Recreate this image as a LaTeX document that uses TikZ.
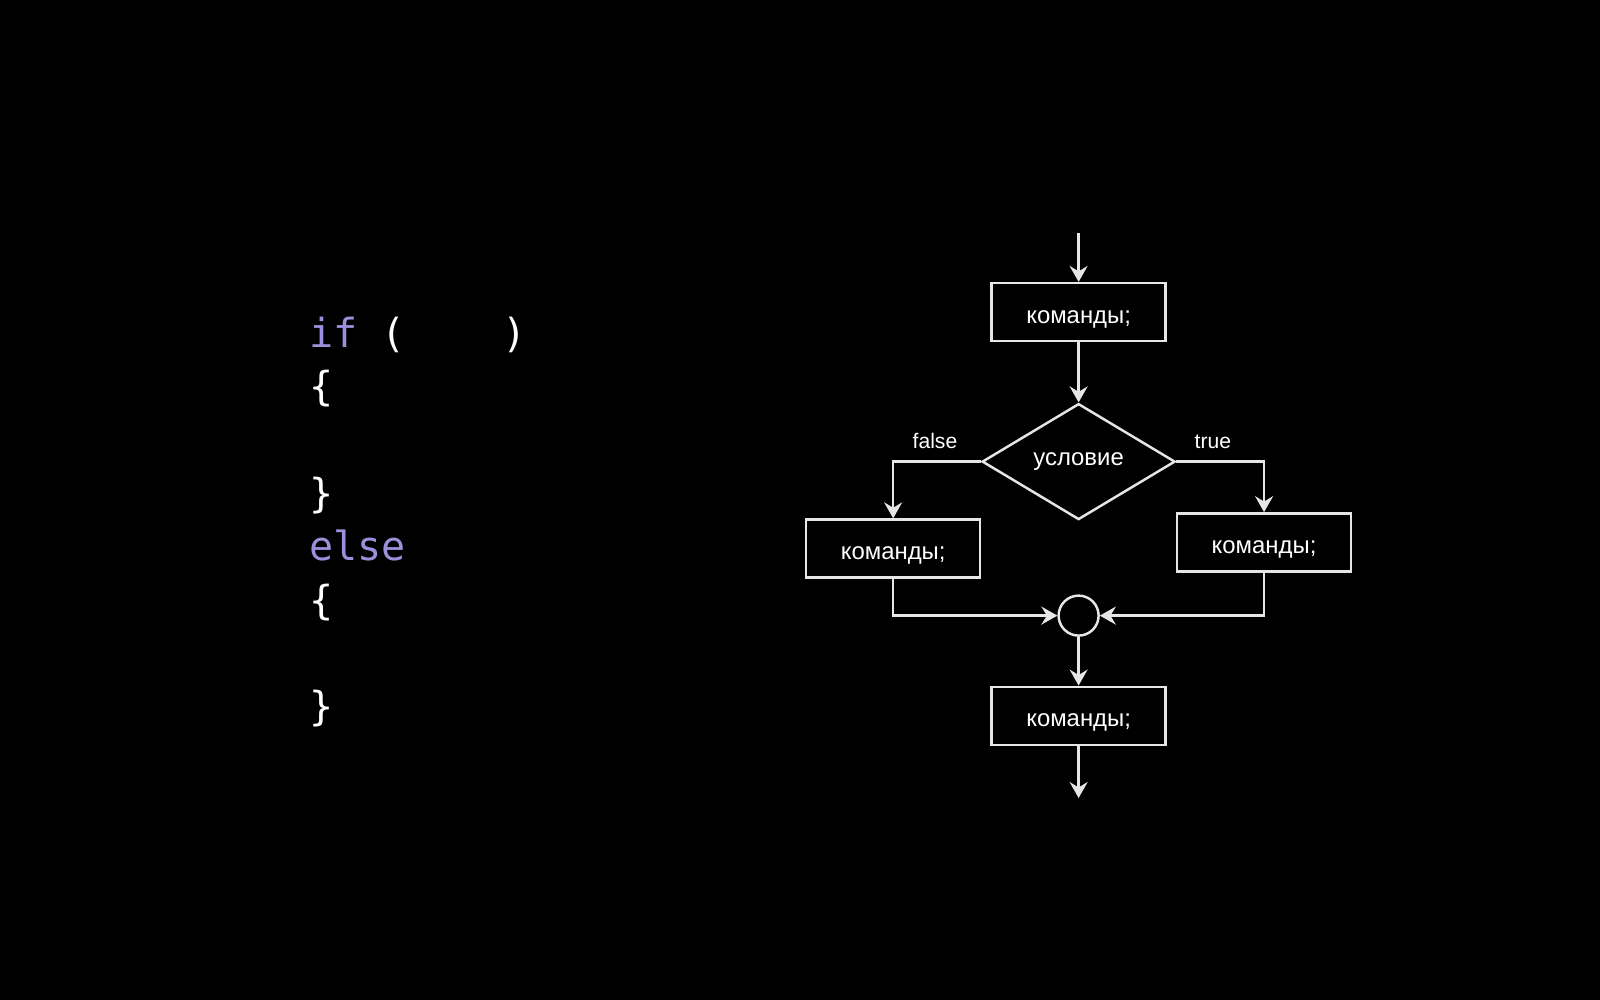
\documentclass[tikz,border=0pt]{standalone}
\usepackage{fontspec}
\usepackage{tikz}
\usetikzlibrary{positioning, shapes.geometric, arrows.meta, calc}

\newfontfamily\chartfont{Liberation Sans}
\newfontfamily\codefont{DejaVu Sans Mono}
\definecolor{keyword}{RGB}{157,143,220}
\definecolor{linecol}{RGB}{230,230,230}
\newcommand{\kw}[1]{\textcolor{keyword}{#1}}

\begin{document}
\begin{tikzpicture}[>={Stealth[length=1.6mm, width=1.8mm, inset=0.55mm]},
     line width=0.7pt, ampersand replacement=\&,
     box/.style={draw=linecol, rectangle, minimum width=1.74cm, minimum height=0.58cm,
       inner sep=0pt, text height=0.62em, text depth=0pt, text=white,
       font=\chartfont\fontsize{6.8}{8}\selectfont},
     cond/.style={draw=linecol, diamond, minimum width=1.93cm, minimum height=1.16cm,
       inner sep=0pt, text=white, font=\chartfont\fontsize{6.8}{8}\selectfont},
     merge/.style={draw=linecol, circle, minimum size=0.4cm, inner sep=0pt},
     branch/.style={text=white, inner sep=0pt, font=\chartfont\fontsize{6}{7}\selectfont},
     code/.style={text=white, inner sep=0pt, anchor=base west,
       font=\codefont\fontsize{11.4}{14}\selectfont}]

  \useasboundingbox (0,0) rectangle (16,10);
  \fill[black] (0,0) rectangle (16,10);

  % code on the left
  \foreach \n/\txt in {1/{\kw{if}\phantom{x}(\phantom{xxxx})}, 2/\{, 4/\}, 5/{\kw{else}}, 6/\{, 8/\}}
    \node[code] (code\n) at (3.08, {6.524-(\n-1)*0.533}) {\txt};

  % flow chart
  \matrix (chart) [anchor=north, inner sep=0pt, row sep=0cm, column sep=0cm] at (10.786, 7.683) {
   \& \coordinate (in); \& \\[0.49cm]
   \& \node[box] (cmd) {команды;}; \& \\[0.60cm]
   \& \node[cond] (cond) {условие}; \& \\[-0.082cm]
   \node[box] (cmdf) {команды;};
   \&
   \& \node[box, yshift=0.062cm] (cmdt) {команды;}; \\[0.156cm]
   \& \node[merge] (join) {}; \& \\[0.487cm]
   \& \node[box] (cmdend) {команды;}; \& \\[0.52cm]
   \& \coordinate (out); \& \\
  };

  \node[branch] (lfalse) at ($(cond.west)+(-0.459,0.207)$) {false};
  \node[branch] (ltrue) at ($(cond.east)+(0.365,0.195)$) {true};

  \draw[->, linecol] (in) -- (cmd);
  \draw[->, linecol] (cmd) -- (cond);
  \draw[->, linecol] (cond.west) -| (cmdf.north);
  \draw[->, linecol] (cond.east) -| (cmdt.north);
  \draw[->, linecol] (cmdf.south) |- (join.west);
  \draw[->, linecol] (cmdt.south) |- (join.east);
  \draw[->, linecol] (join) -- (cmdend);
  \draw[->, linecol] (cmdend) -- (out);
\end{tikzpicture}
\end{document}
